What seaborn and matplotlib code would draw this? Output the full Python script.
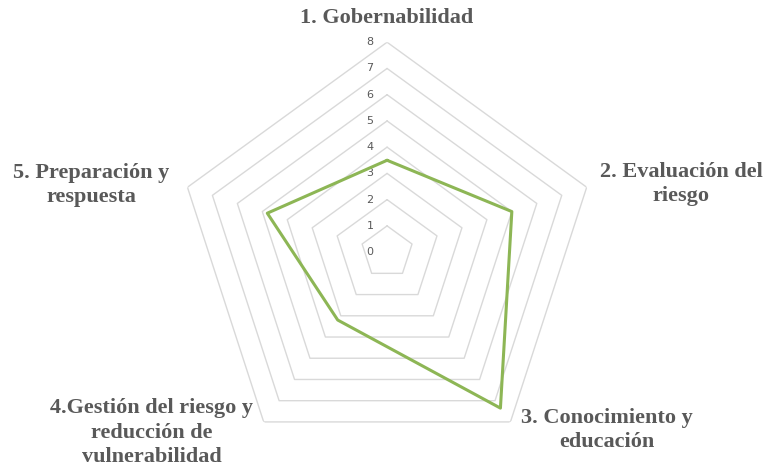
import numpy as np
import matplotlib.pyplot as plt
import seaborn as sns

sns.set_style("white")

categories = ["1. Gobernabilidad",
              "2. Evaluación del\nriesgo",
              "3. Conocimiento y\neducación",
              "4.Gestión del riesgo y\nreducción de\nvulnerabilidad",
              "5. Preparación y\nrespuesta"]
values = [3.5, 5.0, 7.35, 3.2, 4.8]
ring_ticks = [0, 1, 2, 3, 4, 5, 6, 7, 8]

grey_txt = "#595959"
green = "#8DB655"
grid_col = "#D9D9D9"

fig = plt.figure(figsize=(7.68, 4.68), dpi=100)
ax = fig.add_axes([0.2305, 0.0128, 0.547, 0.897], projection="polar")
ax.set_theta_zero_location("N")
ax.set_theta_direction(-1)
ax.set_ylim(0, 8)
ax.grid(False)
ax.spines["polar"].set_visible(False)
ax.set_xticks([])
ax.set_yticks([])
ax.patch.set_alpha(0)

n = len(categories)
angles = np.linspace(0, 2 * np.pi, n, endpoint=False)
closed = np.append(angles, angles[0])

# pentagon rings (no spokes in the original)
for r in ring_ticks[1:]:
    ax.plot(closed, [r] * (n + 1), color=grid_col, lw=1.0, zorder=1)

# ring labels
for r in ring_ticks:
    ax.annotate(str(r), xy=(0, r), xytext=(-17, 0), textcoords="offset pixels",
                ha="center", va="center", fontsize=8, color=grey_txt,
                family="DejaVu Sans")

# data line
sns.lineplot(x=closed, y=values + [values[0]], ax=ax,
             color=green, lw=2.2, sort=False, estimator=None, zorder=3)
ax.set_xlabel("")
ax.set_ylabel("")

# category labels (figure pixel positions of text centres)
label_pos = [(387, 18), (681, 184), (607, 430), (152, 433), (91, 185)]
for lab, (px, py) in zip(categories, label_pos):
    fig.text(px / 768, 1 - py / 468, lab, ha="center", va="center",
             fontsize=16, fontweight="bold", color=grey_txt,
             family="Liberation Serif", linespacing=1.3)

fig.savefig("out.png", dpi=100)
